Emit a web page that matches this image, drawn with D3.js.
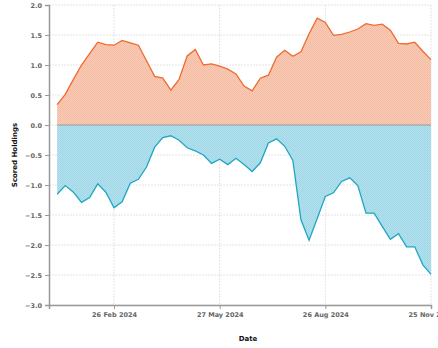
<!DOCTYPE html>
<html><head><meta charset="utf-8">
<script src="https://cdn.jsdelivr.net/npm/d3@7"></script>
<style>body{margin:0;background:#fff;overflow:hidden}svg{display:block;font-family:"DejaVu Sans",Verdana,sans-serif}</style>
</head><body><svg id="c" width="438" height="348"></svg>
<script>
const startDate = "2024-01-08";
const positiveValues = [0.34,0.51,0.76,1.0,1.19,1.38,1.34,1.33,1.41,1.37,1.33,1.07,0.81,0.78,0.58,0.76,1.15,1.26,1.0,1.02,0.98,0.93,0.85,0.65,0.57,0.78,0.83,1.13,1.245,1.145,1.22,1.52,1.78,1.71,1.495,1.51,1.55,1.6,1.69,1.66,1.68,1.58,1.36,1.35,1.38,1.23,1.09];
const negativeValues = [-1.155,-1.01,-1.12,-1.29,-1.21,-0.98,-1.12,-1.38,-1.28,-0.97,-0.905,-0.7,-0.37,-0.21,-0.18,-0.255,-0.38,-0.43,-0.5,-0.64,-0.57,-0.66,-0.555,-0.66,-0.775,-0.63,-0.3,-0.23,-0.355,-0.59,-1.58,-1.92,-1.56,-1.19,-1.13,-0.94,-0.88,-1.01,-1.47,-1.47,-1.69,-1.905,-1.81,-2.03,-2.03,-2.33,-2.49];
const xTickDates = ["2024-02-26","2024-05-27","2024-08-26","2024-11-25"];
const yTicks = [2.0,1.5,1.0,0.5,0.0,-0.5,-1.0,-1.5,-2.0,-2.5,-3.0];

const parse = d3.utcParse("%Y-%m-%d");
const s0 = parse(startDate);
const dates = positiveValues.map((_, i) => d3.utcDay.offset(s0, 7 * i));
const svg = d3.select("#c");
const x = d3.scaleUtc().domain([parse("2024-01-01"), parse("2024-11-25")]).range([49, 431]);
const y = d3.scaleLinear().domain([-3, 2]).range([305, 5]);

const defs = svg.append("defs");
function pat(id, bg, fg) {
  const p = defs.append("pattern").attr("id", id).attr("width", 2).attr("height", 2)
    .attr("patternUnits", "userSpaceOnUse");
  p.append("rect").attr("width", 2).attr("height", 2).attr("fill", bg);
  p.append("rect").attr("width", 1).attr("height", 1).attr("fill", fg);
  p.append("rect").attr("x", 1).attr("y", 1).attr("width", 1).attr("height", 1).attr("fill", fg);
}
pat("po", "#f8cab5", "#f4bda4");
pat("pb", "#b0e0ec", "#a2d8e7");

// grid
const g = svg.append("g");
g.selectAll(".hg").data(yTicks).join("line")
  .attr("x1", 49).attr("x2", 431).attr("y1", d => y(d)).attr("y2", d => y(d))
  .attr("stroke", "#ddd").attr("stroke-width", 0.8).attr("stroke-dasharray", "2,1");
g.selectAll(".vg").data(xTickDates.map(parse)).join("line")
  .attr("x1", d => x(d)).attr("x2", d => x(d)).attr("y1", 5).attr("y2", 305)
  .attr("stroke", "#ddd").attr("stroke-width", 0.8).attr("stroke-dasharray", "2,1");

const areaP = d3.area().x((d, i) => x(dates[i])).y0(y(0)).y1(d => y(d));
const lineP = d3.line().x((d, i) => x(dates[i])).y(d => y(d));
svg.append("path").attr("d", areaP(positiveValues)).attr("fill", "url(#po)");
svg.append("path").attr("d", areaP(negativeValues)).attr("fill", "url(#pb)");
svg.append("line").attr("x1", x(dates[0])).attr("x2", x(dates[dates.length-1]))
  .attr("y1", y(0)).attr("y2", y(0)).attr("stroke", "#999").attr("stroke-width", 1);
svg.append("path").attr("d", lineP(positiveValues)).attr("fill", "none").attr("stroke", "#ee6a31").attr("stroke-width", 1.3);
svg.append("path").attr("d", lineP(negativeValues)).attr("fill", "none").attr("stroke", "#1ea6c3").attr("stroke-width", 1.3);

// axes
const ya = svg.append("g").attr("transform", "translate(49,0)")
  .call(d3.axisLeft(y).tickValues(yTicks).tickFormat(d3.format(".1f")).tickSize(4).tickPadding(3));
const xa = svg.append("g").attr("transform", "translate(0,305)")
  .call(d3.axisBottom(x).tickValues(xTickDates.map(parse)).tickFormat(d3.utcFormat("%d %b %Y")).tickSize(4).tickPadding(3));
[ya, xa].forEach(a => {
  a.select(".domain").attr("stroke", "#999").attr("stroke-width", 1.5);
  a.selectAll(".tick line").attr("stroke", "#999");
  a.selectAll("text").attr("fill", "#666").attr("font-size", 6.5).attr("font-weight", "bold")
    .attr("font-family", "DejaVu Sans, Verdana, sans-serif");
});

svg.append("text").attr("transform", "translate(17,155) rotate(-90)").attr("text-anchor", "middle")
  .attr("font-size", 7).attr("font-weight", "bold").attr("fill", "#111").text("Scored Holdings");
svg.append("text").attr("x", 248).attr("y", 341).attr("text-anchor", "middle")
  .attr("font-size", 7).attr("font-weight", "bold").attr("fill", "#111").text("Date");
</script></body></html>
